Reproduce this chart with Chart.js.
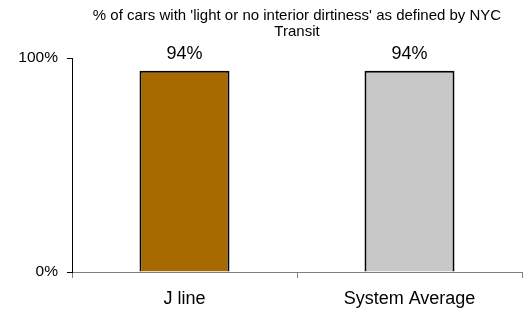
<!DOCTYPE html>
<html>
<head>
<meta charset="utf-8">
<script src="https://cdn.jsdelivr.net/npm/chart.js@4"></script>
<style>
  html, body { margin: 0; padding: 0; background: #fff; }
  #wrap { width: 530px; height: 313px; }
</style>
</head>
<body>
<div id="wrap"><canvas id="myChart"></canvas></div>
<script>
const categories = ["J line", "System Average"];
const values = [94, 94];
const barColors = ["#A66A00", "#C8C8C8"];
const yTicks = [0, 100];
const titleLines = ["% of cars with 'light or no interior dirtiness' as defined by NYC", "Transit"];

const ctx = document.querySelector("#myChart").getContext("2d");
const FONT = "'Liberation Sans', Arial, sans-serif";

// title centred on the plot area, plus value labels on the bars
const extras = {
  id: "extras",
  afterDraw(chart) {
    const c = chart.ctx;
    const area = chart.chartArea;
    const mid = (area.left + area.right) / 2;
    c.save();
    c.fillStyle = "#000";
    c.textAlign = "center";
    c.textBaseline = "middle";
    c.font = "15px " + FONT;
    titleLines.forEach((t, i) => c.fillText(t, mid, 16 + i * 15.5));
    c.font = "18px " + FONT;
    c.textBaseline = "alphabetic";
    chart.getDatasetMeta(0).data.forEach((bar, i) => {
      c.fillText(values[i] + "%", bar.x, bar.y - 12);
    });
    c.restore();
  }
};

new Chart(ctx, {
  type: "bar",
  data: {
    labels: categories,
    datasets: [{
      data: values,
      backgroundColor: barColors,
      borderColor: "#000",
      borderWidth: 2,
      categoryPercentage: 0.4,
      barPercentage: 1
    }]
  },
  options: {
    responsive: true,
    maintainAspectRatio: false,
    animation: false,
    layout: { padding: { top: 58, right: 8, left: 0, bottom: 2 } },
    plugins: {
      legend: { display: false },
      tooltip: { enabled: false }
    },
    scales: {
      x: {
        offset: true,
        afterFit: (scale) => { scale.height = 39; },
        grid: { offset: true, drawOnChartArea: false, drawTicks: true, tickLength: 6, color: "#808080" },
        border: { color: "#808080", width: 1 },
        ticks: { color: "#000", font: { size: 18, family: FONT }, padding: 10 }
      },
      y: {
        min: 0,
        max: 100,
        afterBuildTicks: (scale) => { scale.ticks = yTicks.map(v => ({ value: v })); },
        afterFit: (scale) => { scale.width = 72; },
        grid: { drawOnChartArea: false, drawTicks: true, tickLength: 5, color: "#000" },
        border: { color: "#000", width: 1 },
        ticks: {
          color: "#000",
          padding: 9,
          font: { size: 15.5, family: FONT },
          callback: (v) => v + "%"
        }
      }
    }
  },
  plugins: [extras]
});
</script>
</body>
</html>
